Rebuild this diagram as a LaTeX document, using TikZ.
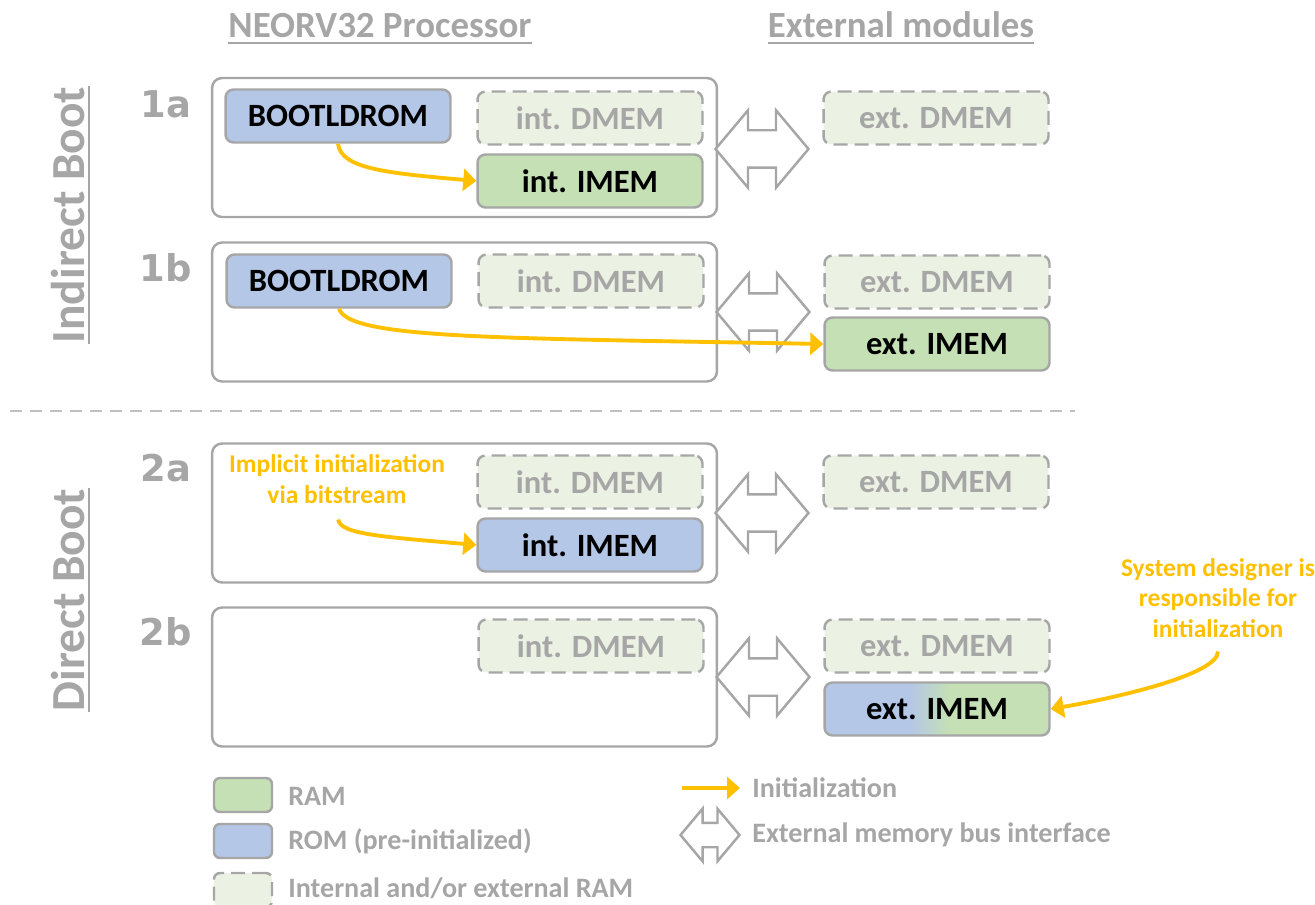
\documentclass[tikz,border=0pt]{standalone}
\usepackage{fontspec}
\setmainfont{Carlito}
\newfontfamily\numfont{DejaVu Sans}
\usetikzlibrary{shapes.arrows,arrows.meta}

\definecolor{framegray}{HTML}{A6A6A6}
\definecolor{sepgray}{HTML}{BFBFBF}
\definecolor{romblue}{HTML}{B4C7E7}
\definecolor{ramgreen}{HTML}{C5E0B4}
\definecolor{optgreen}{HTML}{EBF1E3}
\definecolor{initorange}{HTML}{FFC000}

\pgfdeclarehorizontalshading{romtoram}{100bp}{color(0bp)=(romblue); color(44bp)=(romblue); color(53bp)=(ramgreen); color(100bp)=(ramgreen)}

\tikzset{
  membox/.style={draw=framegray, line width=1.4pt, rounded corners=0.16cm, minimum width=4.5cm, minimum height=1.06cm, font=\fontsize{18.5}{22}\selectfont\bfseries},
  rammem/.style={membox, fill=ramgreen},
  rommem/.style={membox, fill=romblue},
  optmem/.style={membox, fill=optgreen, dash pattern=on 0.28cm off 0.14cm, text=framegray},
  procbox/.style={draw=framegray, line width=1.4pt, rounded corners=0.2cm, minimum width=10.1cm, minimum height=2.78cm},
  busarrow/.style={double arrow, draw=framegray, fill=white, line width=1.4pt, inner xsep=0pt, inner ysep=0.35cm, double arrow head extend=0.4cm, double arrow tip angle=100, minimum height=1.86cm},
  initarrow/.style={draw=initorange, line width=2.2pt, -{Triangle[length=0.26cm,width=0.44cm]}},
  header/.style={text=framegray, inner sep=0pt, anchor=base, font=\fontsize{21}{24}\selectfont\bfseries},
  group/.style={text=framegray, inner sep=0pt, anchor=base, rotate=90, font=\fontsize{27}{30}\selectfont\bfseries},
  underl/.style={draw=framegray, line width=1.6pt},
  caselabel/.style={text=framegray, font=\numfont\fontsize{21}{24}\selectfont\bfseries},
  note/.style={text=initorange, align=center, font=\fontsize{14.5}{17.5}\selectfont\bfseries},
  legbox/.style={minimum width=1.16cm, minimum height=0.68cm, rounded corners=0.12cm},
  legtext/.style={text=framegray, anchor=west, inner sep=0pt, font=\fontsize{16}{19}\selectfont\bfseries},
}

\begin{document}
\begin{tikzpicture}[x=0.02cm, y=-0.02cm]
\useasboundingbox (0,0) rectangle (1315,905);
\clip (0,0) rectangle (1315,905);

% column headers
\node[header] (hproc) at (380,38) {NEORV32 Processor};
\node[header] (hext) at (901,38) {External modules};
\draw[underl] ([yshift=-0.1cm]hproc.base west) -- ([yshift=-0.1cm]hproc.base east);
\draw[underl] ([yshift=-0.1cm]hext.base west) -- ([yshift=-0.1cm]hext.base east);

% boot groups
\node[group] (gind) at (84,215) {Indirect Boot};
\node[group] (gdir) at (84,600) {Direct Boot};
\draw[underl] ([xshift=0.1cm]gind.base west) -- ([xshift=0.1cm]gind.base east);
\draw[underl] ([xshift=0.1cm]gdir.base west) -- ([xshift=0.1cm]gdir.base east);

\coordinate (sepl) at (10,411);
\coordinate (sepr) at (1075,411);
\draw[sepgray, line width=1.2pt, dash pattern=on 0.24cm off 0.16cm] (sepl) -- (sepr);

% case labels
\node[caselabel] (l1a) at (166,104) {1a};
\node[caselabel] (l1b) at (166,268) {1b};
\node[caselabel] (l2a) at (166,468) {2a};
\node[caselabel] (l2b) at (166,632) {2b};

% processors
\node[procbox] (p1a) at (464.5,147.5) {};
\node[procbox] (p1b) at (464.5,312) {};
\node[procbox] (p2a) at (464.5,513) {};
\node[procbox] (p2b) at (464.5,677) {};

% bus interfaces
\node[busarrow] (b1a) at (762,149) {};
\node[busarrow] (b1b) at (763,312) {};
\node[busarrow] (b2a) at (762,513) {};
\node[busarrow] (b2b) at (763,677) {};

% case 1a
\node[rommem] (boot1a) at (338,116) {BOOTLDROM};
\node[optmem] (dmem1a) at (590,118) {int. DMEM};
\node[rammem] (imem1a) at (590,181) {int. IMEM};
\node[optmem] (edmem1a) at (936,118) {ext. DMEM};

% case 1b
\node[rommem] (boot1b) at (339,281) {BOOTLDROM};
\node[optmem] (dmem1b) at (591,281) {int. DMEM};
\node[optmem] (edmem1b) at (937,282) {ext. DMEM};
\node[rammem] (eimem1b) at (937,344) {ext. IMEM};

% case 2a
\node[note] (note2a) at (337,479) {Implicit initialization\\via bitstream};
\node[optmem] (dmem2a) at (590,482) {int. DMEM};
\node[rommem] (imem2a) at (590,545) {int. IMEM};
\node[optmem] (edmem2a) at (936,482) {ext. DMEM};

% case 2b
\node[optmem] (dmem2b) at (591,646) {int. DMEM};
\node[optmem] (edmem2b) at (937,646) {ext. DMEM};
\node[membox, shade, shading=romtoram] (eimem2b) at (937,709) {ext. IMEM};
\node[note] (note2b) at (1218,598) {System designer is\\responsible for\\initialization};

% legend
\node[rammem, legbox] (kram) at (243,795) {};
\node[rommem, legbox] (krom) at (243,841) {};
\node[optmem, legbox] (kopt) at (243,890) {};
\node[legtext] (tram) at (288,796) {RAM};
\node[legtext] (trom) at (288,841) {ROM (pre-initialized)};
\node[legtext] (topt) at (288,888) {Internal and/or external RAM};
\coordinate (kinitl) at (682,788);
\coordinate (kinitr) at (740,788);
\node[legtext] (tinit) at (752,788) {Initialization};
\node[busarrow, inner ysep=0.22cm, double arrow head extend=0.28cm, minimum height=1.18cm] (kbus) at (710,835) {};
\node[legtext] (tbus) at (752,835) {External memory bus interface};

% initialization paths
\draw[initarrow] (boot1a.south) .. controls +(3,25) and +(-90,-8) .. (imem1a.west);
\draw[initarrow] (boot1b.south) .. controls +(10,30) and +(-330,-6) .. (eimem1b.west);
\draw[initarrow, shorten <=0.2cm] (note2a.south) .. controls +(3,25) and +(-90,-8) .. (imem2a.west);
\draw[initarrow, shorten <=0.15cm] (note2b.south) .. controls +(0,30) and +(70,-12) .. (eimem2b.east);
\draw[initarrow] (kinitl) -- (kinitr);
\end{tikzpicture}
\end{document}
